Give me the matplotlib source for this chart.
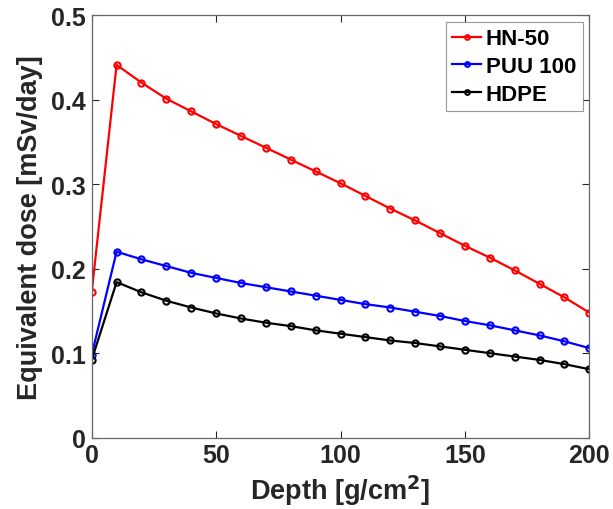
import matplotlib
matplotlib.use("Agg")
import matplotlib.pyplot as plt

# ------------------------------
# data
# ------------------------------
depth = [0, 10, 20, 30, 40, 50, 60, 70, 80, 90, 100,
         110, 120, 130, 140, 150, 160, 170, 180, 190, 200]

hn50 = [0.172, 0.441, 0.420, 0.401, 0.386, 0.371, 0.357, 0.343, 0.329, 0.315, 0.301,
        0.286, 0.271, 0.257, 0.242, 0.227, 0.213, 0.198, 0.182, 0.166, 0.148]

puu100 = [0.098, 0.220, 0.211, 0.203, 0.195, 0.189, 0.183, 0.178, 0.173, 0.168, 0.163,
          0.158, 0.154, 0.149, 0.144, 0.138, 0.133, 0.127, 0.121, 0.114, 0.106]

hdpe = [0.092, 0.184, 0.172, 0.162, 0.154, 0.147, 0.141, 0.136, 0.132, 0.127, 0.123,
        0.119, 0.115, 0.112, 0.108, 0.104, 0.100, 0.096, 0.092, 0.087, 0.081]

xticks = [0, 50, 100, 150, 200]
yticks = [0, 0.1, 0.2, 0.3, 0.4, 0.5]
ytick_labels = ["0", "0.1", "0.2", "0.3", "0.4", "0.5"]

plt.rcParams["font.family"] = ["Liberation Sans", "DejaVu Sans"]
plt.rcParams["font.weight"] = "bold"

fig = plt.figure(figsize=(6.13, 5.10), dpi=100)
ax = fig.add_axes([91.7 / 613, 1 - 438.7 / 510, (589.3 - 91.7) / 613, (438.7 - 16) / 510])

style = dict(lw=1.6, marker="o", ms=4.5, mfc="none", mew=1.5)
ax.plot(depth, hn50, color="#ff0000", label="HN-50", **style)
ax.plot(depth, puu100, color="#0000ff", label="PUU 100", **style)
ax.plot(depth, hdpe, color="#000000", label="HDPE", **style)

ax.set_xlim(0, 200)
ax.set_ylim(0, 0.5)
ax.set_xticks(xticks)
ax.set_yticks(yticks)
ax.set_yticklabels(ytick_labels)

ax.tick_params(direction="in", top=True, right=True, length=5, width=0.8,
               labelsize=18, colors="#262626", pad=4)
for lab in ax.get_xticklabels() + ax.get_yticklabels():
    lab.set_fontweight("bold")
for sp in ax.spines.values():
    sp.set_color("#666666")
    sp.set_linewidth(0.9)

ax.set_xlabel("Depth [g/cm$^\\mathbf{2}$]", fontsize=19.5, fontweight="bold",
              color="#262626", labelpad=4)
ax.set_ylabel("Equivalent dose [mSv/day]", fontsize=19.5, fontweight="bold",
              color="#262626", labelpad=6)

leg = ax.legend(loc="upper right", fontsize=16, frameon=True, fancybox=False,
                handlelength=1.3, handletextpad=0.2, borderpad=0.3,
                labelspacing=0.3, borderaxespad=0.3, markerscale=0.75)
leg.get_frame().set_edgecolor("#808080")
leg.get_frame().set_linewidth(0.8)
for t in leg.get_texts():
    t.set_fontweight("bold")

fig.savefig("out.png", dpi=100)
